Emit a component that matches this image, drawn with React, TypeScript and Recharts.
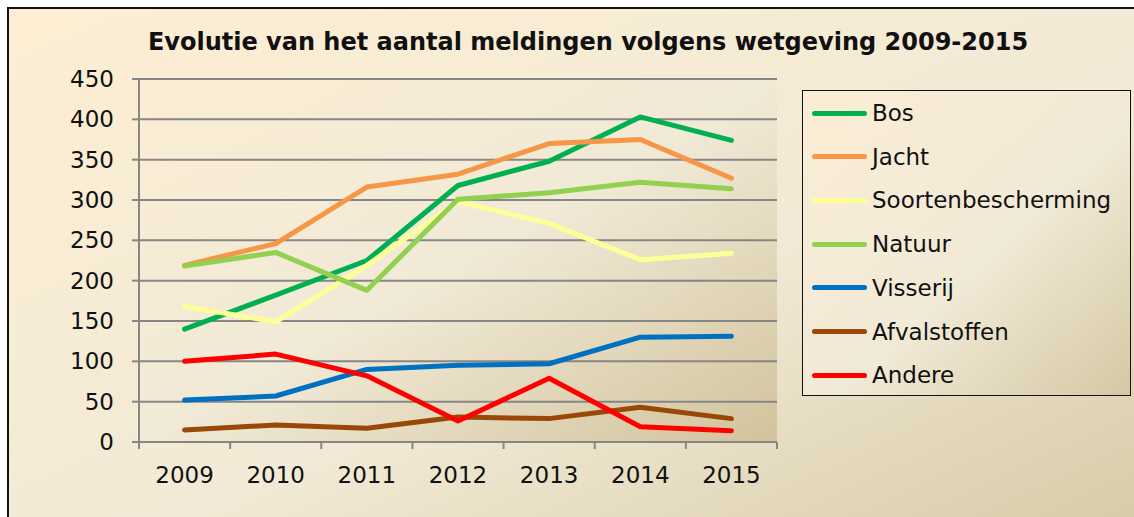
import React from "react";
import { LineChart, Line, XAxis, YAxis, CartesianGrid } from "recharts";

const years = ["2009", "2010", "2011", "2012", "2013", "2014", "2015"];
const bos = [140, 182, 225, 318, 348, 403, 374];
const jacht = [219, 246, 316, 332, 370, 375, 327];
const soorten = [168, 149, 219, 298, 271, 226, 234];
const natuur = [218, 235, 188, 301, 309, 322, 314];
const visserij = [52, 57, 90, 95, 97, 130, 131];
const afval = [15, 21, 17, 31, 29, 43, 29];
const andere = [100, 109, 82, 26, 79, 19, 14];
const yTicks = [0, 50, 100, 150, 200, 250, 300, 350, 400, 450];

const series = [
  { key: "Bos", values: bos, color: "#00B050" },
  { key: "Jacht", values: jacht, color: "#F79646" },
  { key: "Soortenbescherming", values: soorten, color: "#FFFF99" },
  { key: "Natuur", values: natuur, color: "#92D050" },
  { key: "Visserij", values: visserij, color: "#0070C0" },
  { key: "Afvalstoffen", values: afval, color: "#984807" },
  { key: "Andere", values: andere, color: "#FF0000" },
];

const data = years.map((year, i) => {
  const row: Record<string, number | string> = { x: i + 0.5, year };
  series.forEach((s) => (row[s.key] = s.values[i]));
  return row;
});

const W = 1134;
const H = 517;
const margin = { top: 79, right: 357, bottom: 25, left: 59 };
const plotW = W - margin.left - margin.right - 80;
const band = plotW / years.length;
const font = "'DejaVu Sans', Verdana, sans-serif";
const grey = "#868686";

function YearTick(props: any) {
  const { x, y, payload } = props;
  const label = years[payload.value];
  if (!label) return null;
  return (
    <text x={x + band / 2} y={y + 34} textAnchor="middle" fontSize={23} fontFamily={font} fill="#111">
      {label}
    </text>
  );
}

export default function App() {
  return (
    <div style={{ position: "absolute", left: 0, top: 0, width: W, height: H, overflow: "hidden", background: "#fff" }}>
      <div
        style={{
          position: "absolute",
          left: 7,
          top: 7,
          width: W + 20,
          height: H + 20,
          border: "2px solid #111",
          background: "linear-gradient(to bottom right, #FDEED3 0%, #F2EAD6 55%, #D6C9A5 100%)",
        }}
      />
      <div
        style={{
          position: "absolute",
          left: 0,
          width: 1176,
          top: 30,
          textAlign: "center",
          fontFamily: font,
          fontWeight: "bold",
          fontSize: 24,
          lineHeight: "24px",
          color: "#111",
        }}
      >
        Evolutie van het aantal meldingen volgens wetgeving 2009-2015
      </div>
      <div style={{ position: "absolute", left: 0, top: 0 }}>
        <LineChart width={W} height={H} data={data} margin={margin}>
          <defs>
            <linearGradient id="plotBg" x1="0" y1="0" x2="1" y2="1">
              <stop offset="0%" stopColor="#FCEDD4" />
              <stop offset="50%" stopColor="#F1EAD7" />
              <stop offset="100%" stopColor="#D2C39C" />
            </linearGradient>
          </defs>
          <CartesianGrid
            vertical={false}
            stroke={grey}
            strokeWidth={2}
            fill="url(#plotBg)"
            fillOpacity={1}
          />
          <XAxis
            dataKey="x"
            type="number"
            domain={[0, years.length]}
            ticks={[0, 1, 2, 3, 4, 5, 6, 7]}
            interval={0}
            height={50}
            tickSize={7}
            tickMargin={0}
            tick={<YearTick />}
            axisLine={{ stroke: grey, strokeWidth: 2 }}
            tickLine={{ stroke: grey, strokeWidth: 2 }}
          />
          <YAxis
            width={80}
            domain={[0, 450]}
            ticks={yTicks}
            interval={0}
            tickSize={7}
            tickMargin={18}
            tick={{ fontSize: 23, fontFamily: font, fill: "#111" }}
            axisLine={{ stroke: grey, strokeWidth: 2 }}
            tickLine={{ stroke: grey, strokeWidth: 2 }}
          />
          {series.map((s) => (
            <Line
              key={s.key}
              dataKey={s.key}
              stroke={s.color}
              strokeWidth={5}
              strokeLinecap="round"
              strokeLinejoin="round"
              dot={false}
              activeDot={false}
              isAnimationActive={false}
            />
          ))}
        </LineChart>
      </div>
      <div
        style={{
          position: "absolute",
          left: 802,
          top: 90,
          width: 327,
          height: 304,
          border: "1.5px solid #111",
          background: "linear-gradient(to bottom right, #FCEDD5 0%, #F1EAD7 55%, #D5C8A4 100%)",
          fontFamily: font,
          fontSize: 23,
          color: "#111",
        }}
      >
        {series.map((s, i) => (
          <div
            key={s.key}
            style={{ position: "absolute", left: 9, top: 22 + i * 43.7 - 14, height: 28, display: "flex", alignItems: "center" }}
          >
            <span style={{ display: "inline-block", width: 55, height: 5, borderRadius: 3, background: s.color, marginRight: 5 }} />
            <span>{s.key}</span>
          </div>
        ))}
      </div>
    </div>
  );
}
